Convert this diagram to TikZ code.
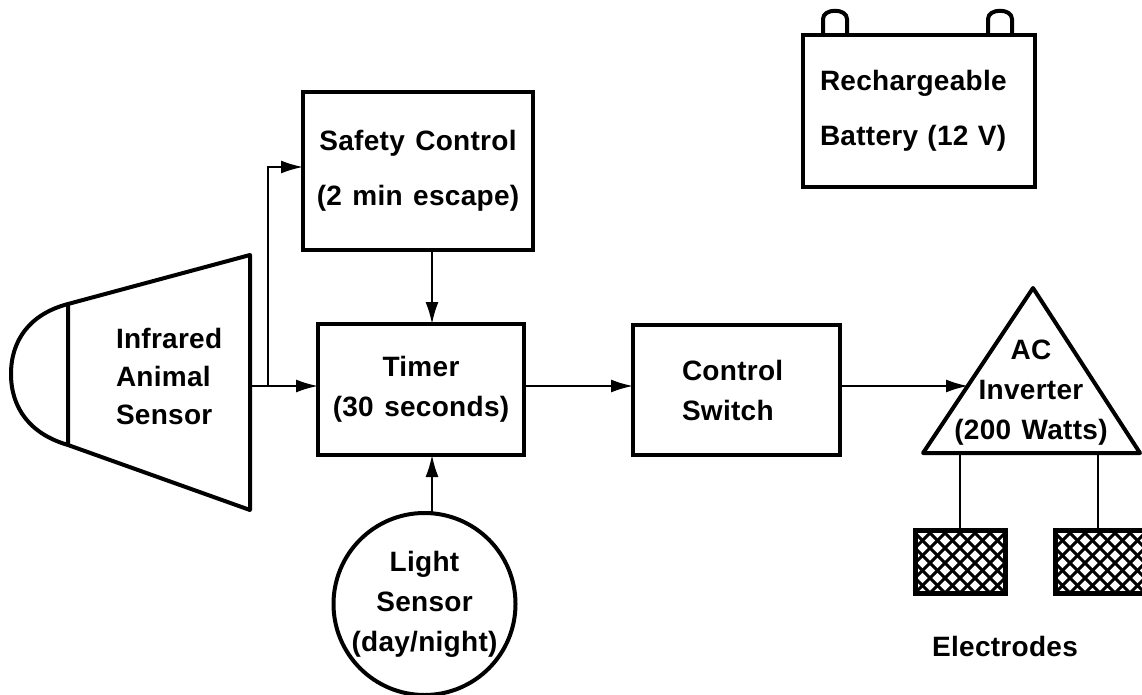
\documentclass[tikz,border=0pt]{standalone}
\usepackage{fontspec}
\setmainfont[LetterSpace=1,WordSpace=1.3]{Liberation Sans}
\usetikzlibrary{arrows.meta}

\begin{document}
\begin{tikzpicture}
[x=1pt,y=-1pt,
  every node/.style={inner sep=0pt,outer sep=0pt,align=center,
    font=\fontsize{28}{40}\bfseries\selectfont},%
  box/.style={draw,line width=4pt,shape=rectangle},%
  textonly/.style={font=\fontsize{28}{38}\bfseries\selectfont},%
  wire/.style={line width=2pt},%
  shell/.style={line width=4pt,line join=round},%
  link/.style={wire,-{Latex[length=22pt,width=13pt]}},%
  electrode/.style={draw,line width=5pt,shape=rectangle,
    minimum width=90pt,minimum height=63pt,
    path picture={
      \foreach \d in {-90,-75,...,150} {
        \draw[line width=3pt] (path picture bounding box.south west) ++(\d pt,0pt) -- ++(80pt,80pt);
        \draw[line width=3pt] (path picture bounding box.south east) ++(-\d pt,0pt) -- ++(-80pt,80pt);
      }
    }}]
\useasboundingbox (0,0) rectangle (1142,695);

% sensor
\draw[shell] (68,304) -- (250,255) -- (250,510) -- (68,445) -- cycle;
\draw[shell] (68,304) .. controls (30,314) and (11,340) .. (11,374)
  .. controls (11,408) and (30,434) .. (68,445);
\node[textonly,align=left,anchor=west] (animal) at (116,376) {Infrared\\Animal\\Sensor};
\coordinate (animalout) at (252,386);
\coordinate (branch) at (268,386);

% boxes
\node[box,minimum width=230pt,minimum height=158pt] (safety) at (418,171)
  {Safety Control\\[15pt](2 min escape)};
\node[box,minimum width=206pt,minimum height=131pt] (timer) at (421,389.5)
  {Timer\\(30 seconds)};
\node[box,minimum width=207pt,minimum height=130pt,text width=109pt,align=left] (switch) at (736.5,390)
  {Control\\Switch};
\node[box,minimum width=232pt,minimum height=152pt,text width=198pt,align=left] (battery) at (919,111)
  {Rechargeable\\[15pt]Battery (12 V)};
\node[draw,line width=4pt,shape=circle,minimum size=182pt,align=center] (light) at (424.5,604)
  {Light\\Sensor\\(day/night)};
\coordinate (lightout) at (432,513);
\coordinate (safetyin) at (303,167);

% battery terminals
\draw[shell] (823,35) -- (823,19) .. controls (823,8) and (847,8) .. (847,19) -- (847,35);
\draw[shell] (988,35) -- (988,19) .. controls (988,8) and (1012,8) .. (1012,19) -- (1012,35);

% inverter
\draw[shell] (1033,288) -- (1140,453) -- (923,453) -- cycle;
\node (inverter) at (1031,393) {AC\\Inverter\\(200 Watts)};
\coordinate (inverterin) at (968,386);
\coordinate (legleft) at (960,453);
\coordinate (legright) at (1098,453);

% electrodes
\node[electrode] (padleft) at (960,561.5) {};
\node[electrode] (padright) at (1100,561.5) {};
\node (padlabel) at (1005,646) {Electrodes};

% links
\draw[wire] (animalout) -- (branch);
\draw[link] (branch) -- (branch -| timer.west);
\draw[link] (branch) |- (safetyin);
\draw[link] (safety.south -| lightout) -- (timer.north -| lightout);
\draw[link] (lightout) -- (timer.south -| lightout);
\draw[link] (branch -| timer.east) -- (branch -| switch.west);
\draw[link] (branch -| switch.east) -- (inverterin);
\draw[wire] (legleft) -- (padleft.north);
\draw[wire] (legright) -- (legright |- padright.north);
\end{tikzpicture}
\end{document}
